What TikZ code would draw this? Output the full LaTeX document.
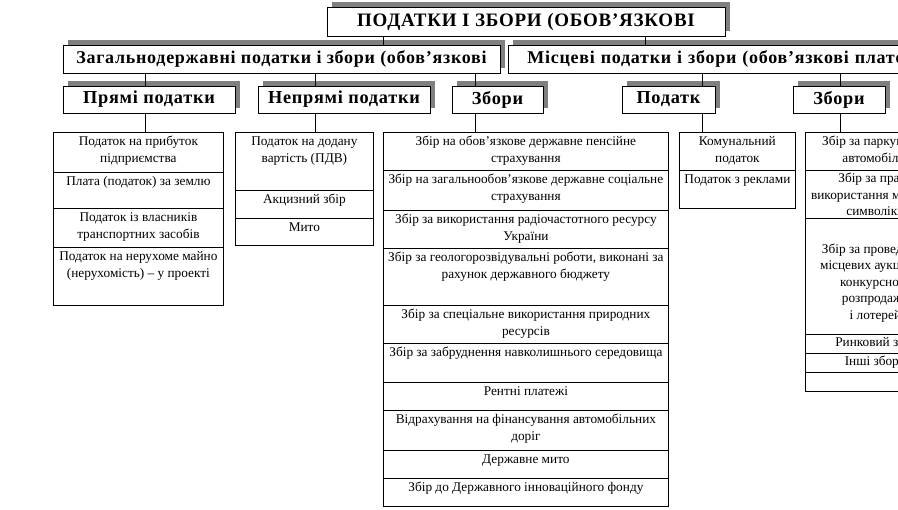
\documentclass[tikz,border=0pt]{standalone}
\usepackage{fontspec}
\setmainfont{Liberation Serif}
\newfontfamily\hdfont[LetterSpace=4]{Liberation Serif}
\usetikzlibrary{shadows}
\definecolor{shadowgray}{RGB}{128,128,128}
\newcommand\cellfont{\fontsize{13.3}{16.5}\selectfont}
% optional: first-baseline offset; name, x, y, width, height, text
\newcommand\tcell[7][13.5]{%
  \node[cell] (#2) at (#3,#4)
    {\parbox[t][#6pt][t]{#5pt}{\cellfont\centering\rule{0pt}{#1pt}#7}};}
\begin{document}
\begin{tikzpicture}[x=1pt,y=-1pt,
  hdbox/.style={draw=black, fill=white, line width=0.9pt, inner sep=0pt,
    font=\hdfont\bfseries\fontsize{18.3}{20}\selectfont,
    drop shadow={shadow xshift=5pt, shadow yshift=5pt, fill=shadowgray, opacity=1}},
  titlefont/.style={font=\hdfont\bfseries\fontsize{19}{22}\selectfont},
  lvtwo/.style={font=\hdfont\bfseries\fontsize{18}{20}\selectfont},
  cell/.style={draw=black, line width=0.8pt, inner sep=0pt, anchor=north west},
  conn/.style={draw=black, line width=0.8pt}]
\useasboundingbox (0,0) rectangle (898,510);
\clip (0,0) rectangle (898,510);

% ---- level 1
\node[hdbox, titlefont, minimum width=398pt, minimum height=29pt] (title) at (526,21.5)
  {ПОДАТКИ І ЗБОРИ (ОБОВ’ЯЗКОВІ};

% ---- level 2
\node[hdbox, lvtwo, minimum width=437pt, minimum height=28pt] (gen) at (281.5,59)
  {Загальнодержавні податки і збори (обов’язкові};
\node[hdbox, lvtwo, anchor=north west, minimum width=500pt, minimum height=28pt,
  text width=462pt, inner xsep=19pt, align=left] (loc) at (508,45)
  {Місцеві податки і збори (обов’язкові платежі)};

% ---- level 3
\node[hdbox, minimum width=172pt, minimum height=27pt] (dir) at (149,99.5) {Прямі податки};
\node[hdbox, minimum width=172pt, minimum height=27pt] (ind) at (344,99.5) {Непрямі податки};
\node[hdbox, minimum width=91pt, minimum height=27pt] (fees) at (497.5,99.5) {Збори};
\node[hdbox, minimum width=93pt, minimum height=27pt] (ltax) at (668.5,99.5) {Податк};
\node[hdbox, minimum width=92pt, minimum height=27pt] (lfees) at (839,99.5) {Збори};

% ---- column 1
\tcell{c1a}{53}{132}{170}{40}{Податок на прибуток\\підприємства}
\tcell{c1b}{53}{172}{170}{36}{Плата (податок) за землю}
\tcell{c1c}{53}{208}{170}{39}{Податок із власників\\транспортних засобів}
\tcell{c1d}{53}{247}{170}{58}{Податок на нерухоме майно\\(нерухомість) – у проекті}

% ---- column 2
\tcell{c2a}{235}{132}{138}{58}{Податок на додану\\вартість (ПДВ)}
\tcell{c2b}{235}{190}{138}{28}{Акцизний збір}
\tcell{c2c}{235}{218}{138}{27}{Мито}

% ---- column 3
\tcell{c3a}{383}{132}{285}{38}{Збір на обов’язкове державне пенсійне\\страхування}
\tcell{c3b}{383}{170}{285}{40}{Збір на загальнообов’язкове державне соціальне\\страхування}
\tcell{c3c}{383}{210}{285}{38}{Збір за використання радіочастотного ресурсу\\України}
\tcell{c3d}{383}{248}{285}{57}{Збір за геологорозвідувальні роботи, виконані за\\рахунок державного бюджету}
\tcell{c3e}{383}{305}{285}{38}{Збір за спеціальне використання природних\\ресурсів}
\tcell{c3f}{383}{343}{285}{39}{Збір за забруднення навколишнього середовища}
\tcell{c3g}{383}{382}{285}{28}{Рентні платежі}
\tcell{c3h}{383}{410}{285}{40}{Відрахування на фінансування автомобільних\\доріг}
\tcell{c3i}{383}{450}{285}{28}{Державне мито}
\tcell{c3j}{383}{478}{285}{28}{Збір до Державного інноваційного фонду}

% ---- column 4
\tcell{c4a}{679}{132}{116}{38}{Комунальний\\податок}
\tcell{c4b}{679}{170}{116}{38}{Податок з реклами}

% ---- column 5
\tcell{c5a}{805}{132}{140}{38}{Збір за паркування\\автомобілів}
\tcell[12.5]{c5b}{805}{170}{140}{48}{Збір за право\\використання місцевої\\символіки}
\tcell[35]{c5c}{805}{218}{140}{116}{Збір за проведення\\місцевих аукціонів,\\конкурсного\\розпродажу\\і лотерей}
\tcell[12.5]{c5d}{805}{334}{140}{19}{Ринковий збір}
\tcell[12.5]{c5e}{805}{353}{140}{19}{Інші збори}
\tcell{c5f}{805}{372}{140}{19}{}

% ---- connector x positions
\coordinate (xa) at (383,0);
\coordinate (xb) at (645,0);
\coordinate (x1) at (145,0);
\coordinate (x2) at (315,0);
\coordinate (x3) at (475,0);
\coordinate (x4) at (702,0);
\coordinate (x5) at (840,0);

% ---- connectors
\draw[conn] (title.south -| xa) -- (gen.north -| xa);
\draw[conn] (title.south -| xb) -- (loc.north -| xb);
\draw[conn] (gen.south -| x1) -- (dir.north -| x1);
\draw[conn] (gen.south -| x2) -- (ind.north -| x2);
\draw[conn] (gen.south -| x3) -- (fees.north -| x3);
\draw[conn] (loc.south -| x4) -- (ltax.north -| x4);
\draw[conn] (loc.south -| x5) -- (lfees.north -| x5);
\draw[conn] (dir.south -| x1) -- (c1a.north -| x1);
\draw[conn] (ind.south -| x2) -- (c2a.north -| x2);
\draw[conn] (fees.south -| x3) -- (c3a.north -| x3);
\draw[conn] (ltax.south -| x4) -- (c4a.north -| x4);
\draw[conn] (lfees.south -| x5) -- (c5a.north -| x5);
\end{tikzpicture}
\end{document}
